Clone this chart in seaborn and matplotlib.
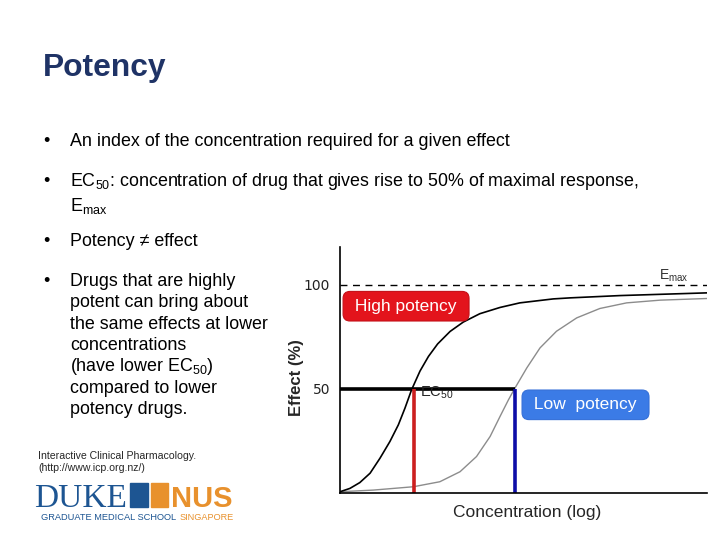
import matplotlib
matplotlib.use('Agg')
import matplotlib.pyplot as plt
from matplotlib.patches import Rectangle
import seaborn as sns

# Dose-response curves (concentration on a log axis, 0-10 units)
conc_high = [0, 0.27, 0.54, 0.82, 1.09, 1.36, 1.59, 1.77, 1.95, 2.18, 2.41, 2.66,
             3.0, 3.36, 3.81, 4.36, 4.90, 5.81, 6.27, 7.63, 8.54, 10]
effect_high = [0.6, 2.2, 5.0, 9.5, 16.7, 24.7, 32.7, 40.7, 49.5, 58.5, 65.5, 71.5,
               77.5, 82.0, 86.0, 89.0, 91.2, 93.1, 93.6, 94.7, 95.2, 96.0]

conc_low = [0, 0.91, 2.0, 2.72, 3.27, 3.72, 4.09, 4.36, 4.59, 4.74, 5.09, 5.45,
            5.90, 6.45, 7.08, 7.81, 8.72, 10]
effect_low = [0.6, 1.4, 3.0, 5.4, 10.2, 17.5, 27.1, 36.7, 44.7, 49.5, 60.0, 69.6,
              77.6, 84.0, 88.5, 91.2, 92.5, 93.3]

ec50_high = 2.02
ec50_low = 4.76
emax = 100
half_effect = 50
y_ticks = [50, 100]

bullets = [
    'An index of the concentration required for a given effect',
    'EC$_{\\mathregular{50}}$: concentration of drug that gives rise to 50% of maximal response,',
    'Potency \u2260 effect',
]
drug_lines = ['Drugs that are highly', 'potent can bring about', 'the same effects at lower',
              'concentrations', '(have lower EC$_{\\mathregular{50}}$)', 'compared to lower',
              'potency drugs.']

sns.set_style('white')
plt.rcParams['font.family'] = ['Liberation Sans', 'DejaVu Sans']
plt.rcParams['mathtext.fontset'] = 'custom'
plt.rcParams['mathtext.rm'] = 'Liberation Sans'

W, H = 720, 540
fig = plt.figure(figsize=(7.2, 5.4), dpi=100)


def fx(px):
    return px / W


def fy(py):
    return 1 - py / H


# Slide text
fig.text(fx(43), fy(68), 'Potency', fontsize=22.9, fontweight='bold', color='#1f3366',
         va='center', ha='left')

body = dict(fontsize=12.9, color='black', va='center', ha='left')
for txt, py in zip(bullets, [141, 181, 241]):
    fig.text(fx(43), fy(py), '\u2022', **body)
    fig.text(fx(70), fy(py), txt, **body)
fig.text(fx(70), fy(206), 'E$_{\\mathregular{max}}$', **body)
fig.text(fx(43), fy(281), '\u2022', **body)
for txt, py in zip(drug_lines, [281.7, 302.7, 324.3, 345, 366.7, 388.3, 410]):
    fig.text(fx(70), fy(py), txt, **body)

fig.text(fx(38), fy(456), 'Interactive Clinical Pharmacology.', fontsize=7.6, va='center')
fig.text(fx(38), fy(468), '(http://www.icp.org.nz/)', fontsize=7.6, va='center')

# Logo (text approximation)
fig.text(fx(34), fy(507), 'DUKE', family='Liberation Serif', fontsize=24,
         color='#1d5592', va='baseline', ha='left')
fig.add_artist(Rectangle((fx(130), fy(507)), fx(18), 24 / H, color='#1d5592',
                         transform=fig.transFigure))
fig.add_artist(Rectangle((fx(151), fy(507)), fx(17), 24 / H, color='#e8912d',
                         transform=fig.transFigure))
fig.text(fx(171), fy(507), 'NUS', fontsize=21, fontweight='bold', color='#e8912d',
         va='baseline', ha='left')
fig.text(fx(41), fy(518), 'GRADUATE MEDICAL SCHOOL', fontsize=6.7, color='#1d5592',
         va='center', ha='left')
fig.text(fx(180), fy(518), 'SINGAPORE', fontsize=6.6, color='#e8912d',
         va='center', ha='left')

# Chart
ax = fig.add_axes([fx(340), fy(493), (707 - 340) / W, (493 - 247) / H])
sns.lineplot(x=conc_low, y=effect_low, ax=ax, color='#8c8c8c', lw=1.0, sort=False)
sns.lineplot(x=conc_high, y=effect_high, ax=ax, color='black', lw=1.2, sort=False)
ax.axhline(emax, color='black', lw=1.0, ls=(0, (5, 4)))
ax.hlines(half_effect, 0, ec50_low, color='black', lw=2.6)
ax.vlines(ec50_high, 0, half_effect, color='#cc1f1f', lw=2.6)
ax.vlines(ec50_low, 0, half_effect, color='#0d0da8', lw=2.6)

ax.text(2.17, 48.2, 'EC$_{\\mathregular{50}}$', fontsize=10.5, color='#222222',
        va='center', ha='left')
ax.text(8.7, 104, 'E$_{\\mathregular{max}}$', fontsize=10, color='#333333',
        va='center', ha='left')
ax.text(1.80, 89.6, ' High potency ', fontsize=12.5, color='white', ha='center',
        va='center', bbox=dict(boxstyle='round,pad=0.42,rounding_size=0.4',
                               fc='#e3141c', ec='#c41018', lw=0.8))
ax.text(6.69, 42.3, ' Low  potency ', fontsize=12.5, color='white', ha='center',
        va='center', bbox=dict(boxstyle='round,pad=0.42,rounding_size=0.4',
                               fc='#3b7be6', ec='#3570d8', lw=0.8))

ax.set_xlim(0, 10)
ax.set_ylim(0, 118)
ax.set_xticks([])
ax.set_yticks(y_ticks)
ax.set_yticklabels([str(t) for t in y_ticks], family='DejaVu Sans', fontsize=10,
                   color='#222222')
ax.tick_params(axis='y', length=0, pad=7)
ax.set_xlabel('')
ax.set_ylabel('')
for side in ['top', 'right']:
    ax.spines[side].set_visible(False)
for side in ['left', 'bottom']:
    ax.spines[side].set_color('black')
    ax.spines[side].set_linewidth(1.2)
ax.set_facecolor('white')

fig.text(fx(297), fy(378), 'Effect (%)', fontsize=12, fontweight='bold',
         rotation=90, ha='center', va='center')
fig.text(fx(527), fy(512), 'Concentration (log)', fontsize=12.5, ha='center', va='center')

fig.savefig('out.png', dpi=100, facecolor='white')
